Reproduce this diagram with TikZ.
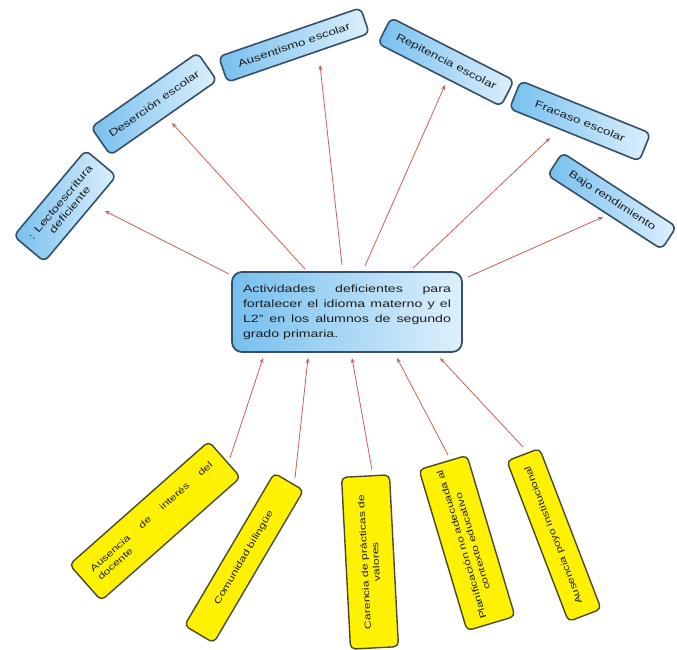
\documentclass[tikz,border=0pt]{standalone}
\usepackage{fontspec}
\setmainfont{Liberation Sans}
\newfontfamily\bxfont[FakeStretch=1.35]{Liberation Sans}
\usetikzlibrary{arrows.meta}
\definecolor{bordblue}{HTML}{34506B}
\definecolor{bluedark}{HTML}{76BFEE}
\definecolor{bluelight}{HTML}{DDF0FC}
\definecolor{ybord}{HTML}{4A4A28}
\definecolor{arrred}{HTML}{C4605A}
\definecolor{txt}{HTML}{1E1E1E}
\hyphenpenalty=10000
\exhyphenpenalty=10000
\tolerance=10000
\begin{document}
\begin{tikzpicture}[x=1pt,y=-1pt,
  effbox/.style={draw=bordblue, line width=1.6pt, rounded corners=6pt, left color=bluedark, right color=bluelight, text=txt, font=\bxfont\fontsize{10}{12}\selectfont, align=center, inner sep=2pt},
  causebox/.style={draw=ybord, line width=1.4pt, rounded corners=5pt, fill=yellow, text=txt, font=\bxfont\fontsize{9}{11.5}\selectfont, align=center, inner sep=2pt},
  mainbox/.style={draw=bordblue, line width=1.8pt, rounded corners=10pt, left color=bluedark, right color=bluelight, text=txt, minimum width=230pt, minimum height=80pt, text width=208pt, align=justify, font=\bxfont\fontsize{10.5}{15}\selectfont},
  arr/.style={draw=arrred, line width=0.8pt, -{Stealth[length=5pt,width=4pt]}}]
\useasboundingbox (0,0) rectangle (677,650);

% central problem
\node[mainbox] (c) at (347,312) {\hyphenpenalty=10000 Actividades deficientes para fortalecer el idioma materno y el L2” en los alumnos de segundo grado primaria.};

% effects
\node[effbox, rotate=50, minimum width=112pt, minimum height=40pt] (b1) at (65,206) {: Lectoescritura\\deficiente};
\node[effbox, rotate=35, minimum width=130pt, minimum height=34pt] (b2) at (154,104) {Deserción escolar};
\node[effbox, rotate=19, minimum width=150pt, minimum height=27pt] (b3) at (294,45) {Ausentismo escolar};
\node[effbox, rotate=-27, minimum width=138pt, minimum height=29pt] (b4) at (446,62) {Repitencia escolar};
\node[effbox, rotate=-22, minimum width=140pt, minimum height=30pt] (b5) at (580,121) {Fracaso escolar};
\node[effbox, rotate=-33, minimum width=136pt, minimum height=27pt] (b6) at (612,201) {Bajo rendimiento};

% causes
\node[causebox, rotate=41.5, minimum width=186pt, minimum height=48pt, text width=160pt, align=justify] (y1) at (155,521) {\hyphenpenalty=10000 Ausencia de interés del docente};
\node[causebox, rotate=59.5, minimum width=177pt, minimum height=34pt] (y2) at (244,558) {Comunidad bilingüe};
\node[causebox, rotate=93, minimum width=172pt, minimum height=48pt] (y3) at (370,562) {Carencia de prácticas de\\valores};
\node[causebox, rotate=106.6, minimum width=168pt, minimum height=50pt] (y4) at (467,543) {Planificación no adecuada al\\contexto educativo};
\node[causebox, rotate=111, minimum width=172pt, minimum height=35pt] (y5) at (554,535) {Ausencia poyo institucional};

% arrows to effects
\draw[arr] ([shift={(-118,-38)}]c.center) -- ([shift={(40,5)}]b1.center);
\draw[arr] ([shift={(-42,-43)}]c.center) -- ([shift={(18,19)}]b2.center);
\draw[arr] ([shift={(-5,-47)}]c.center) -- ([shift={(26,20)}]b3.center);
\draw[arr] ([shift={(18,-46)}]c.center) -- ([shift={(-1,23)}]b4.center);
\draw[arr] ([shift={(66,-44)}]c.center) -- ([shift={(-30,17)}]b5.center);
\draw[arr] ([shift={(121,-35)}]c.center) -- ([shift={(-9,16)}]b6.center);

% arrows from causes
\draw[arr] ([shift={(75,-63)}]y1.center) -- ([shift={(-84,46)}]c.center);
\draw[arr] ([shift={(51,-80)}]y2.center) -- ([shift={(-39,46)}]c.center);
\draw[arr] ([shift={(2,-92)}]y3.center) -- ([shift={(5,46)}]c.center);
\draw[arr] ([shift={(-19,-88)}]y4.center) -- ([shift={(50,46)}]c.center);
\draw[arr] ([shift={(-31,-88)}]y5.center) -- ([shift={(93,46)}]c.center);
\end{tikzpicture}
\end{document}
